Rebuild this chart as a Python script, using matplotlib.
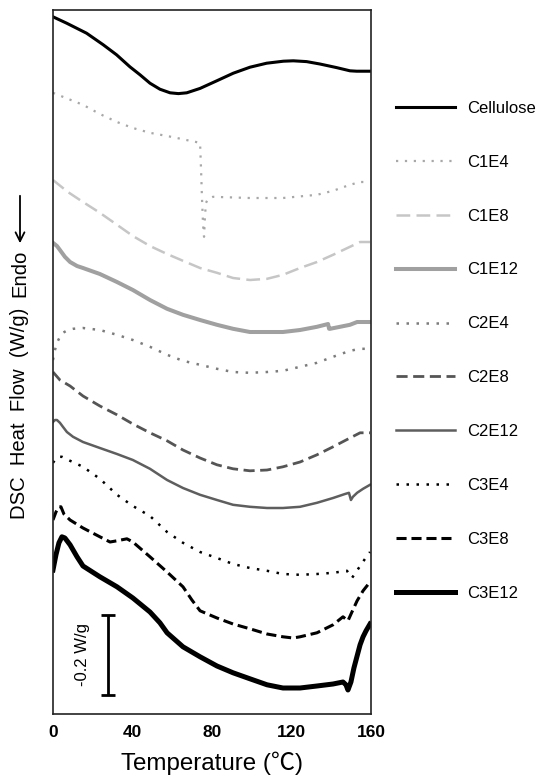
import matplotlib
matplotlib.use('Agg')
import matplotlib.pyplot as plt

plt.rcParams['font.family'] = ['Liberation Sans', 'Noto Sans CJK SC', 'DejaVu Sans']

# DSC thermograms, temperature (C) vs heat flow (W/g, curves stacked with offsets)
t_cell = [0, 6.9, 16.9, 25.3, 32.0, 38.7, 43.8, 48.8, 53.8, 58.9, 63.1, 67.3, 74.0, 82.4, 90.7, 99.1,
          107.5, 115.9, 120.9, 127.6, 134.3, 142.7, 149.4, 152.8, 160]
hf_cell = [1.743, 1.727, 1.702, 1.673, 1.648, 1.618, 1.598, 1.577, 1.562, 1.553, 1.551, 1.553, 1.564, 1.583, 1.602, 1.617,
           1.627, 1.632, 1.633, 1.631, 1.625, 1.616, 1.608, 1.607, 1.607]

t_c1e4 = [0, 7.5, 15.1, 23.6, 32.2, 40.2, 48.8, 57.4, 62.4, 69, 74.0, 74.5, 75.0, 75.5, 76.0,
          76.5, 77.0, 78.0, 80.5, 99.1, 115.7, 132.8, 140.9, 149.4, 154.5, 159.5]
hf_c1e4 = [1.553, 1.538, 1.523, 1.50, 1.48, 1.465, 1.453, 1.445, 1.44, 1.433, 1.428, 1.36, 1.285, 1.223, 1.193,
           1.248, 1.278, 1.288, 1.293, 1.29, 1.29, 1.298, 1.308, 1.323, 1.33, 1.33]

t_c1e8 = [0, 7.5, 15.1, 23.6, 32.2, 40.2, 48.8, 57.4, 65.4, 74.0, 82.5, 90.6, 99.1, 107.7,
          115.7, 124.3, 132.8, 140.9, 149.4, 154.5, 159.5]
hf_c1e8 = [1.335, 1.305, 1.28, 1.253, 1.223, 1.195, 1.17, 1.15, 1.133, 1.115, 1.103, 1.09, 1.085, 1.088,
           1.098, 1.115, 1.13, 1.148, 1.168, 1.18, 1.18]

t_c1e12 = [0, 2.0, 3.5, 6.0, 8.6, 12.1, 15.1, 23.6, 32.2, 40.2, 48.8, 57.4, 65.4, 74.0, 82.5, 90.6,
           99.1, 107.7, 115.7, 124.3, 132.8, 138.4, 138.9, 139.4, 144.4, 149.4, 153.0, 159.5]
hf_c1e12 = [1.178, 1.17, 1.16, 1.143, 1.13, 1.12, 1.115, 1.10, 1.08, 1.06, 1.035, 1.013, 0.998, 0.985, 0.973, 0.963,
            0.955, 0.955, 0.955, 0.96, 0.968, 0.975, 0.963, 0.963, 0.968, 0.973, 0.98, 0.98]

t_c2e4 = [0, 1.0, 2.0, 3.5, 5.0, 7.5, 10.1, 15.1, 23.6, 32.2, 40.2, 48.8, 57.4, 65.4, 74.0, 82.5,
          90.6, 99.1, 107.7, 115.7, 124.3, 132.8, 140.9, 149.4, 154.5, 159.5]
hf_c2e4 = [0.885, 0.91, 0.928, 0.943, 0.953, 0.96, 0.963, 0.965, 0.96, 0.948, 0.935, 0.918, 0.898, 0.883, 0.873, 0.863,
           0.855, 0.853, 0.855, 0.858, 0.868, 0.878, 0.893, 0.908, 0.913, 0.913]

t_c2e8 = [0, 3.5, 8.6, 15.1, 23.6, 32.2, 40.2, 48.8, 57.4, 65.4, 74.0, 82.5, 90.6, 99.1, 107.7,
          115.7, 124.3, 132.8, 140.9, 149.4, 154.5, 159.5]
hf_c2e8 = [0.855, 0.835, 0.82, 0.795, 0.77, 0.748, 0.725, 0.703, 0.683, 0.66, 0.64, 0.623, 0.613, 0.608, 0.61,
           0.618, 0.63, 0.648, 0.668, 0.69, 0.703, 0.703]

t_c2e12 = [0, 1.0, 2.0, 3.5, 5.0, 7.0, 10.1, 15.1, 23.6, 32.2, 40.2, 48.8, 57.4, 65.4, 74.0, 82.5, 90.6,
           99.1, 107.7, 115.7, 124.3, 132.8, 140.9, 146.9, 148.9, 149.9, 150.9, 153.0, 156.0, 159.5]
hf_c2e12 = [0.73, 0.735, 0.735, 0.728, 0.718, 0.705, 0.693, 0.68, 0.665, 0.65, 0.635, 0.613, 0.585, 0.565, 0.548, 0.535, 0.523,
            0.518, 0.515, 0.515, 0.518, 0.528, 0.54, 0.55, 0.553, 0.535, 0.543, 0.553, 0.563, 0.573]

t_c3e4 = [0, 1.0, 2.5, 4.5, 8.6, 15.1, 23.6, 32.2, 40.2, 48.8, 57.4, 65.4, 74.0, 82.5, 90.6, 99.1,
          107.7, 115.7, 124.3, 132.8, 140.9, 147.9, 150.4, 152.5, 154.5, 157.0, 159.5]
hf_c3e4 = [0.628, 0.635, 0.643, 0.643, 0.633, 0.618, 0.588, 0.548, 0.52, 0.495, 0.455, 0.428, 0.405, 0.39, 0.375, 0.365,
           0.358, 0.35, 0.348, 0.35, 0.353, 0.358, 0.34, 0.355, 0.37, 0.388, 0.405]

t_c3e8 = [0, 1.5, 3.0, 4.0, 5.5, 8.6, 15.1, 23.6, 28.7, 32.2, 37.2, 40.2, 48.8, 57.4, 65.4, 69.9, 74.0,
          82.5, 90.6, 99.1, 107.7, 115.7, 120.8, 124.3, 132.8, 140.9, 145.9, 148.4, 150.4, 153.0, 156.0, 159.5]
hf_c3e8 = [0.485, 0.505, 0.518, 0.518, 0.50, 0.485, 0.465, 0.443, 0.43, 0.433, 0.438, 0.43, 0.393, 0.355, 0.318, 0.285, 0.258,
           0.24, 0.225, 0.213, 0.20, 0.193, 0.19, 0.193, 0.203, 0.223, 0.243, 0.233, 0.255, 0.283, 0.308, 0.33]

t_c3e12 = [0, 1.5, 3.0, 4.5, 6.0, 8.6, 12.1, 15.1, 23.6, 32.2, 40.2, 48.8, 53.8, 57.4, 65.4, 74.0, 82.5,
           90.6, 99.1, 107.7, 115.7, 124.3, 132.8, 140.9, 145.9, 147.4, 148.4, 149.9, 151.4, 153.0, 154.5, 156.0, 157.5, 159.5]
hf_c3e12 = [0.36, 0.398, 0.428, 0.443, 0.44, 0.423, 0.393, 0.37, 0.343, 0.318, 0.29, 0.255, 0.228, 0.203, 0.168, 0.143, 0.12,
            0.103, 0.088, 0.073, 0.065, 0.065, 0.07, 0.075, 0.08, 0.073, 0.06, 0.08, 0.115, 0.145, 0.173, 0.193, 0.208, 0.225]

labels = ['Cellulose', 'C1E4', 'C1E8', 'C1E12', 'C2E4', 'C2E8', 'C2E12', 'C3E4', 'C3E8', 'C3E12']
temps = [t_cell, t_c1e4, t_c1e8, t_c1e12, t_c2e4, t_c2e8, t_c2e12, t_c3e4, t_c3e8, t_c3e12]
flows = [hf_cell, hf_c1e4, hf_c1e8, hf_c1e12, hf_c2e4, hf_c2e8, hf_c2e12, hf_c3e4, hf_c3e8, hf_c3e12]

scale_bar = 0.2      # W/g
scale_x = 27.7
scale_y0 = 0.0475

colors = ['black', '#a8a8a8', '#c6c6c6', '#a0a0a0', '#7c7c7c', '#555555', '#5e5e5e', 'black', 'black', 'black']
widths = [2.2, 1.6, 1.8, 2.9, 1.8, 2.0, 1.8, 1.8, 2.2, 3.6]
dots = (0, (1, 3))
styles = ['-', dots, (0, (5.5, 2.5)), '-', dots, (0, (4, 2)), '-', dots, (0, (3.3, 1.6)), '-']

fig = plt.figure(figsize=(5.49, 7.76), dpi=100)
ax = fig.add_axes([0.0965, 0.0799, 0.5793, 0.9072])

for t, hf, lab, c, w, ls in zip(temps, flows, labels, colors, widths, styles):
    ax.plot(t, hf, color=c, lw=w, linestyle=ls, label=lab)

# scale bar
ax.errorbar([scale_x], [scale_y0 + scale_bar / 2], yerr=scale_bar / 2, fmt='none',
            ecolor='black', elinewidth=2.0, capsize=4.7, capthick=2.0)
ax.text(scale_x - 12.6, scale_y0 + scale_bar / 2, '-0.2 W/g', rotation=90,
        ha='center', va='center', fontsize=12)

ax.set_xlim(0, 160)
ax.set_ylim(0, 1.76)
ax.set_xticks([0, 40, 80, 120, 160])
ax.set_yticks([])
ax.tick_params(axis='x', length=0, pad=8, labelsize=12.5)
for lbl in ax.get_xticklabels():
    lbl.set_fontweight('bold')
ax.set_xlabel('Temperature (℃)', fontsize=17.4, labelpad=8)
for s in ax.spines.values():
    s.set_linewidth(1.2)
    s.set_color('#222222')

fig.text(20 / 549, 1 - 413 / 776, 'DSC  Heat  Flow  (W/g)', rotation=90,
         ha='center', va='center', fontsize=14.6)
fig.text(20 / 549, 1 - 273 / 776, 'Endo', rotation=90, ha='center', va='center', fontsize=14.6)
ax.annotate('', xy=(20 / 549, 1 - 246 / 776), xytext=(20 / 549, 1 - 193 / 776),
            xycoords='figure fraction', textcoords='figure fraction',
            arrowprops=dict(arrowstyle='->', lw=1.3, color='black', mutation_scale=16))

ax.legend(loc='upper left', bbox_to_anchor=(396 / 549, 1 - 101 / 776), bbox_transform=fig.transFigure,
          frameon=False, fontsize=12, handlelength=3.54, handletextpad=0.72,
          labelspacing=2.33, borderpad=0, borderaxespad=0)

fig.savefig('out.png', dpi=100)
